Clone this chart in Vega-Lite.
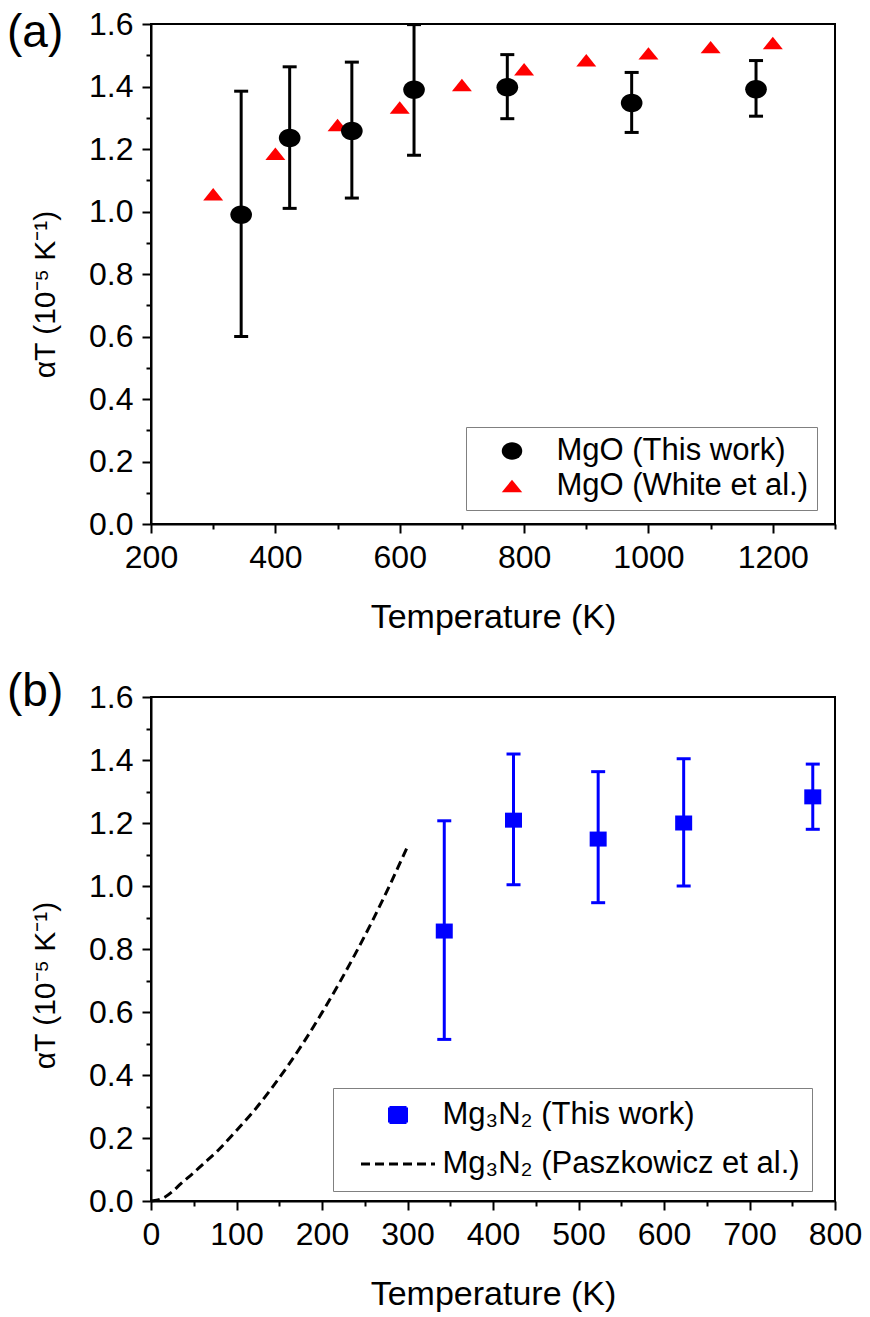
{
  "$schema": "https://vega.github.io/schema/vega-lite/v6.json",
  "background": "white",
  "padding": {"left": 6, "top": 7, "right": 5, "bottom": 0},
  "spacing": 33,
  "resolve": {"scale": {"color": "independent", "shape": "independent", "stroke": "independent", "strokeDash": "independent"}, "legend": {"color": "independent", "shape": "independent", "stroke": "independent", "strokeDash": "independent"}},
  "config": {
    "font": "Liberation Sans",
    "view": {"stroke": "black", "strokeWidth": 2},
    "axis": {"domainColor": "black", "domainWidth": 2, "tickColor": "black", "tickWidth": 2, "labelColor": "black", "labelFont": "Liberation Sans", "labelFontSize": 32, "labelPadding": 9, "titleColor": "black", "titleFont": "Liberation Sans", "titleFontSize": 34, "titleFontWeight": "normal", "grid": false, "labelFlush": false, "labelOverlap": false},
    "axisX": {"titlePadding": 27},
    "axisY": {"titlePadding": 28, "titleFontSize": 30},
    "legend": {"labelFont": "Liberation Sans", "labelFontSize": 31, "labelColor": "black", "labelLimit": 0, "strokeColor": "#808080", "fillColor": "white", "title": null}
  },
  "datasets": {
    "mgo_this": [
      {"series": "MgO (This work)", "T": 345, "v": 0.99, "lo": 0.6, "hi": 1.385},
      {"series": "MgO (This work)", "T": 423, "v": 1.235, "lo": 1.01, "hi": 1.463},
      {"series": "MgO (This work)", "T": 523, "v": 1.258, "lo": 1.043, "hi": 1.478},
      {"series": "MgO (This work)", "T": 623, "v": 1.39, "lo": 1.18, "hi": 1.598},
      {"series": "MgO (This work)", "T": 773, "v": 1.398, "lo": 1.297, "hi": 1.502},
      {"series": "MgO (This work)", "T": 973, "v": 1.347, "lo": 1.253, "hi": 1.445},
      {"series": "MgO (This work)", "T": 1173, "v": 1.391, "lo": 1.305, "hi": 1.483}
    ],
    "mgo_white": [
      {"series": "MgO (White et al.)", "T": 300, "v": 1.055},
      {"series": "MgO (White et al.)", "T": 400, "v": 1.185},
      {"series": "MgO (White et al.)", "T": 500, "v": 1.277},
      {"series": "MgO (White et al.)", "T": 600, "v": 1.333},
      {"series": "MgO (White et al.)", "T": 700, "v": 1.405},
      {"series": "MgO (White et al.)", "T": 800, "v": 1.455},
      {"series": "MgO (White et al.)", "T": 900, "v": 1.484},
      {"series": "MgO (White et al.)", "T": 1000, "v": 1.506},
      {"series": "MgO (White et al.)", "T": 1100, "v": 1.526},
      {"series": "MgO (White et al.)", "T": 1200, "v": 1.539}
    ],
    "mg3n2_this": [
      {"series": "Mg₃N₂ (This work)", "T": 343, "v": 0.857, "lo": 0.513, "hi": 1.207},
      {"series": "Mg₃N₂ (This work)", "T": 424, "v": 1.209, "lo": 1.004, "hi": 1.419},
      {"series": "Mg₃N₂ (This work)", "T": 523, "v": 1.149, "lo": 0.947, "hi": 1.363},
      {"series": "Mg₃N₂ (This work)", "T": 623, "v": 1.2, "lo": 1.0, "hi": 1.404},
      {"series": "Mg₃N₂ (This work)", "T": 774, "v": 1.283, "lo": 1.18, "hi": 1.387}
    ],
    "mg3n2_pasz": [
      {"series": "Mg₃N₂ (Paszkowicz et al.)", "T": 0, "v": 0.0},
      {"series": "Mg₃N₂ (Paszkowicz et al.)", "T": 8, "v": 0.003},
      {"series": "Mg₃N₂ (Paszkowicz et al.)", "T": 16, "v": 0.012},
      {"series": "Mg₃N₂ (Paszkowicz et al.)", "T": 25, "v": 0.03},
      {"series": "Mg₃N₂ (Paszkowicz et al.)", "T": 35, "v": 0.055},
      {"series": "Mg₃N₂ (Paszkowicz et al.)", "T": 50, "v": 0.09},
      {"series": "Mg₃N₂ (Paszkowicz et al.)", "T": 60, "v": 0.115},
      {"series": "Mg₃N₂ (Paszkowicz et al.)", "T": 80, "v": 0.165},
      {"series": "Mg₃N₂ (Paszkowicz et al.)", "T": 100, "v": 0.224},
      {"series": "Mg₃N₂ (Paszkowicz et al.)", "T": 120, "v": 0.285},
      {"series": "Mg₃N₂ (Paszkowicz et al.)", "T": 140, "v": 0.354},
      {"series": "Mg₃N₂ (Paszkowicz et al.)", "T": 160, "v": 0.429},
      {"series": "Mg₃N₂ (Paszkowicz et al.)", "T": 180, "v": 0.51},
      {"series": "Mg₃N₂ (Paszkowicz et al.)", "T": 200, "v": 0.598},
      {"series": "Mg₃N₂ (Paszkowicz et al.)", "T": 220, "v": 0.691},
      {"series": "Mg₃N₂ (Paszkowicz et al.)", "T": 240, "v": 0.79},
      {"series": "Mg₃N₂ (Paszkowicz et al.)", "T": 260, "v": 0.895},
      {"series": "Mg₃N₂ (Paszkowicz et al.)", "T": 280, "v": 1.007},
      {"series": "Mg₃N₂ (Paszkowicz et al.)", "T": 300, "v": 1.125}
    ]
  },
  "vconcat": [
    {
      "width": 684,
      "height": 500,
      "title": {"text": "(a)", "anchor": "start", "frame": "group", "orient": "top", "offset": 0, "dx": -144, "dy": 49, "baseline": "top", "font": "Liberation Sans", "fontSize": 46, "fontWeight": "normal", "color": "black"},
      "resolve": {"axis": {"x": "independent", "y": "independent"}},
      "layer": [
        {
          "data": {"name": "mgo_this"},
          "mark": {"type": "rule", "color": "black", "strokeWidth": 3},
          "encoding": {
            "x": {"field": "T", "type": "quantitative", "scale": {"domain": [200, 1300], "nice": false, "zero": false},
                  "axis": {"orient": "bottom", "values": [200, 400, 600, 800, 1000, 1200], "format": "d", "tickSize": 9, "title": "Temperature (K)"}},
            "y": {"field": "lo", "type": "quantitative", "scale": {"domain": [0, 1.6], "nice": false},
                  "axis": {"orient": "left", "values": [0, 0.2, 0.4, 0.6, 0.8, 1.0, 1.2, 1.4, 1.6], "format": ".1f", "tickSize": 9, "title": "αT (10⁻⁵ K⁻¹)", "titleY": 270}},
            "y2": {"field": "hi"}
          }
        },
        {
          "data": {"name": "mgo_this"},
          "mark": {"type": "tick", "orient": "horizontal", "size": 14, "thickness": 3, "color": "black", "opacity": 1},
          "encoding": {
            "x": {"field": "T", "type": "quantitative", "scale": {"domain": [200, 1300], "nice": false, "zero": false},
                  "axis": {"orient": "bottom", "values": [300, 500, 700, 900, 1100, 1300], "tickSize": 5, "labels": false, "domain": false, "title": null}},
            "y": {"field": "lo", "type": "quantitative", "scale": {"domain": [0, 1.6], "nice": false},
                  "axis": {"orient": "left", "values": [0.1, 0.3, 0.5, 0.7, 0.9, 1.1, 1.3, 1.5], "tickSize": 5, "labels": false, "domain": false, "title": null}}
          }
        },
        {
          "data": {"name": "mgo_this"},
          "mark": {"type": "tick", "orient": "horizontal", "size": 14, "thickness": 3, "color": "black", "opacity": 1},
          "encoding": {
            "x": {"field": "T", "type": "quantitative", "scale": {"domain": [200, 1300], "nice": false, "zero": false}, "axis": null},
            "y": {"field": "hi", "type": "quantitative", "scale": {"domain": [0, 1.6], "nice": false}, "axis": null}
          }
        },
        {
          "data": {"name": "mgo_white"},
          "mark": {"type": "point", "filled": true, "opacity": 1, "size": 400},
          "encoding": {
            "x": {"field": "T", "type": "quantitative", "scale": {"domain": [200, 1300], "nice": false, "zero": false}, "axis": null},
            "y": {"field": "v", "type": "quantitative", "scale": {"domain": [0, 1.6], "nice": false}, "axis": null},
            "color": {"field": "series", "type": "nominal", "scale": {"domain": ["MgO (This work)", "MgO (White et al.)"], "range": ["#000000", "#ff0000"]},
                      "legend": {"title": null, "orient": "none", "legendX": 315, "legendY": 403, "padding": 8.5, "symbolOffset": 22, "labelOffset": 29, "rowPadding": 3, "symbolSize": 420, "encode": {"legend": {"strokeWidth": {"value": 1.5}}}}},
            "shape": {"field": "series", "type": "nominal", "scale": {"domain": ["MgO (This work)", "MgO (White et al.)"], "range": ["M-1,0A1,0.85,0,1,0,1,0A1,0.85,0,1,0,-1,0Z", "M-1,0.62L0,-0.62L1,0.62Z"]},
                      "legend": {"title": null, "orient": "none", "legendX": 315, "legendY": 403, "padding": 8.5, "symbolOffset": 22, "labelOffset": 29, "rowPadding": 3, "symbolSize": 420, "encode": {"legend": {"strokeWidth": {"value": 1.5}}}}}
          }
        },
        {
          "data": {"name": "mgo_this"},
          "mark": {"type": "point", "filled": true, "opacity": 1, "size": 470},
          "encoding": {
            "x": {"field": "T", "type": "quantitative", "scale": {"domain": [200, 1300], "nice": false, "zero": false}, "axis": null},
            "y": {"field": "v", "type": "quantitative", "scale": {"domain": [0, 1.6], "nice": false}, "axis": null},
            "color": {"field": "series", "type": "nominal", "scale": {"domain": ["MgO (This work)", "MgO (White et al.)"], "range": ["#000000", "#ff0000"]}},
            "shape": {"field": "series", "type": "nominal", "scale": {"domain": ["MgO (This work)", "MgO (White et al.)"], "range": ["M-1,0A1,0.85,0,1,0,1,0A1,0.85,0,1,0,-1,0Z", "M-1,0.62L0,-0.62L1,0.62Z"]}}
          }
        }
      ]
    },
    {
      "width": 684,
      "height": 504,
      "title": {"text": "(b)", "anchor": "start", "frame": "group", "orient": "top", "offset": 0, "dx": -144, "dy": 35, "baseline": "top", "font": "Liberation Sans", "fontSize": 46, "fontWeight": "normal", "color": "black"},
      "resolve": {"axis": {"x": "independent", "y": "independent"}},
      "layer": [
        {
          "data": {"name": "mg3n2_this"},
          "mark": {"type": "rule", "color": "#0000ff", "strokeWidth": 3},
          "encoding": {
            "x": {"field": "T", "type": "quantitative", "scale": {"domain": [0, 800], "nice": false},
                  "axis": {"orient": "bottom", "values": [0, 100, 200, 300, 400, 500, 600, 700, 800], "format": "d", "tickSize": 9, "title": "Temperature (K)"}},
            "y": {"field": "lo", "type": "quantitative", "scale": {"domain": [0, 1.6], "nice": false},
                  "axis": {"orient": "left", "values": [0, 0.2, 0.4, 0.6, 0.8, 1.0, 1.2, 1.4, 1.6], "format": ".1f", "tickSize": 9, "title": "αT (10⁻⁵ K⁻¹)", "titleY": 288}},
            "y2": {"field": "hi"}
          }
        },
        {
          "data": {"name": "mg3n2_this"},
          "mark": {"type": "tick", "orient": "horizontal", "size": 14, "thickness": 3, "color": "#0000ff", "opacity": 1},
          "encoding": {
            "x": {"field": "T", "type": "quantitative", "scale": {"domain": [0, 800], "nice": false},
                  "axis": {"orient": "bottom", "values": [50, 150, 250, 350, 450, 550, 650, 750], "tickSize": 5, "labels": false, "domain": false, "title": null}},
            "y": {"field": "lo", "type": "quantitative", "scale": {"domain": [0, 1.6], "nice": false},
                  "axis": {"orient": "left", "values": [0.1, 0.3, 0.5, 0.7, 0.9, 1.1, 1.3, 1.5], "tickSize": 5, "labels": false, "domain": false, "title": null}}
          }
        },
        {
          "data": {"name": "mg3n2_this"},
          "mark": {"type": "tick", "orient": "horizontal", "size": 14, "thickness": 3, "color": "#0000ff", "opacity": 1},
          "encoding": {
            "x": {"field": "T", "type": "quantitative", "scale": {"domain": [0, 800], "nice": false}, "axis": null},
            "y": {"field": "hi", "type": "quantitative", "scale": {"domain": [0, 1.6], "nice": false}, "axis": null}
          }
        },
        {
          "data": {"name": "mg3n2_this"},
          "mark": {"type": "point", "filled": true, "opacity": 1, "size": 400},
          "encoding": {
            "x": {"field": "T", "type": "quantitative", "scale": {"domain": [0, 800], "nice": false}, "axis": null},
            "y": {"field": "v", "type": "quantitative", "scale": {"domain": [0, 1.6], "nice": false}, "axis": null},
            "color": {"field": "series", "type": "nominal", "scale": {"domain": ["Mg₃N₂ (This work)", "Mg₃N₂ (Paszkowicz et al.)"], "range": ["#0000ff", "#000000"]},
                      "legend": {"title": null, "orient": "none", "legendX": 182, "legendY": 391, "padding": 11.5, "symbolOffset": 38, "labelOffset": 29, "rowPadding": 17, "symbolSize": 400, "symbolStrokeWidth": 3, "symbolOpacity": 1, "encode": {"legend": {"strokeWidth": {"value": 1.5}}}}},
            "shape": {"field": "series", "type": "nominal", "scale": {"domain": ["Mg₃N₂ (This work)", "Mg₃N₂ (Paszkowicz et al.)"], "range": ["M-0.85,-0.75L0.85,-0.75L0.85,0.75L-0.85,0.75Z", "M-3.7,0L3.7,0"]},
                      "legend": {"title": null, "orient": "none", "legendX": 182, "legendY": 391, "padding": 11.5, "symbolOffset": 38, "labelOffset": 29, "rowPadding": 17, "symbolSize": 400, "symbolStrokeWidth": 3, "symbolOpacity": 1}}
          }
        },
        {
          "data": {"name": "mg3n2_pasz"},
          "mark": {"type": "line", "strokeWidth": 3, "interpolate": "monotone"},
          "encoding": {
            "x": {"field": "T", "type": "quantitative", "scale": {"domain": [0, 800], "nice": false}, "axis": null},
            "y": {"field": "v", "type": "quantitative", "scale": {"domain": [0, 1.6], "nice": false}, "axis": null},
            "stroke": {"field": "series", "type": "nominal", "scale": {"domain": ["Mg₃N₂ (This work)", "Mg₃N₂ (Paszkowicz et al.)"], "range": ["#0000ff", "#000000"]},
                       "legend": {"title": null, "orient": "none", "legendX": 182, "legendY": 391, "padding": 11.5, "symbolOffset": 38, "labelOffset": 29, "rowPadding": 17, "symbolSize": 400, "symbolStrokeWidth": 3, "symbolOpacity": 1}},
            "strokeDash": {"field": "series", "type": "nominal", "scale": {"domain": ["Mg₃N₂ (This work)", "Mg₃N₂ (Paszkowicz et al.)"], "range": [[1, 0], [9, 5]]},
                           "legend": {"title": null, "orient": "none", "legendX": 182, "legendY": 391, "padding": 11.5, "symbolOffset": 38, "labelOffset": 29, "rowPadding": 17, "symbolSize": 400, "symbolStrokeWidth": 3, "symbolOpacity": 1}}
          }
        }
      ]
    }
  ]
}
